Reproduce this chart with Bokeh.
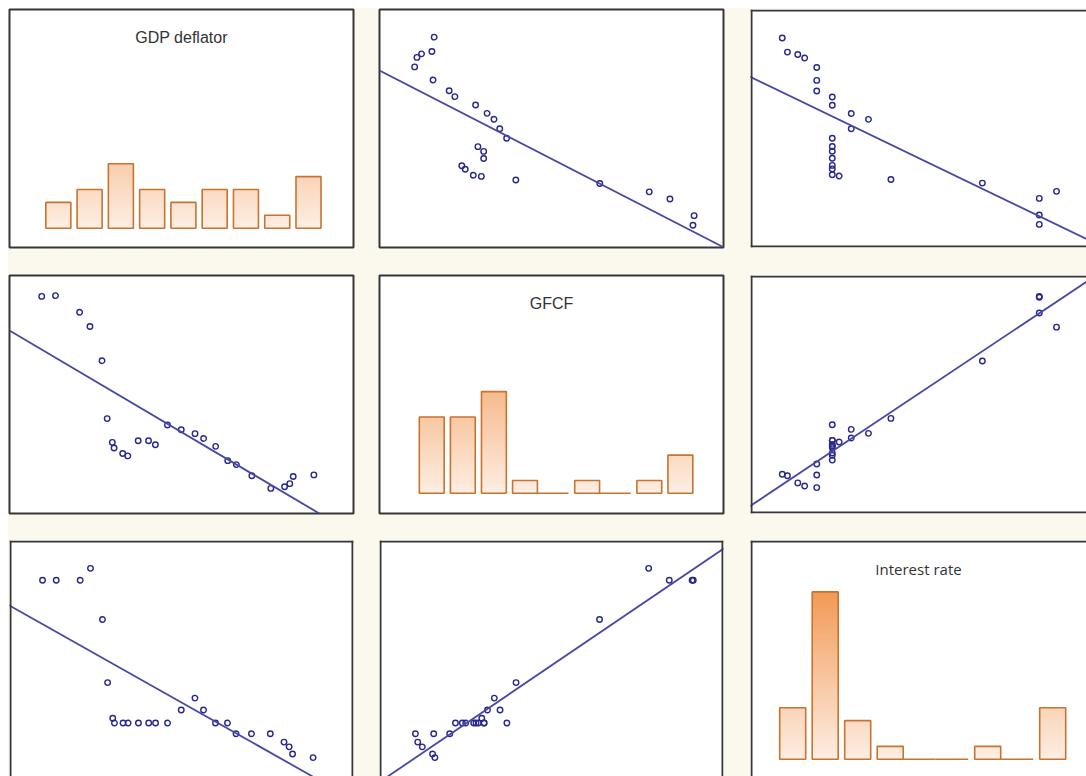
import numpy as np
from bokeh.plotting import figure
from bokeh.models import Range1d, Slope, Span, Label
from bokeh.layouts import gridplot
from bokeh.embed import file_html
from bokeh.resources import INLINE

# ---------------- data ----------------
variables = ["GDP deflator", "GFCF", "Interest rate"]

gdp_deflator = [1.9, 2.7, 4.1, 4.7, 5.4, 5.7, 6.0, 6.1, 6.6, 6.9, 7.5, 8.1, 8.5,
                9.2, 10.0, 10.8, 11.3, 12.0, 12.7, 13.2, 14.1, 15.2, 16.0, 16.3, 16.5, 17.7]
gfcf = [27.3, 27.4, 25.3, 23.5, 19.2, 11.9, 8.9, 8.2, 7.5, 7.2, 9.1, 9.1, 8.6,
        11.1, 10.5, 10.0, 9.4, 8.4, 6.6, 6.1, 4.7, 3.1, 3.3, 3.7, 4.6, 4.8]
interest_rate = [16.7, 16.7, 16.7, 17.7, 13.4, 8.1, 5.1, 4.7, 4.7, 4.7, 4.7, 4.7, 4.7,
                 4.7, 5.8, 6.8, 5.8, 4.7, 4.7, 3.8, 3.8, 3.8, 3.1, 2.7, 2.1, 1.8]

gdp_hist_counts = [2, 3, 5, 3, 2, 3, 3, 1, 4]
gfcf_hist_counts = [6, 6, 8, 1, 0, 1, 0, 1, 3]
interest_hist_counts = [4, 13, 3, 1, 0, 0, 1, 0, 4]

series = [gdp_deflator, gfcf, interest_rate]
hist_counts = [gdp_hist_counts, gfcf_hist_counts, interest_hist_counts]

# ---------------- layout / style ----------------
CREAM = "#FBF8EE"
FRAME_LINE = "#363636"
MARKER = "#26268E"
REG_LINE = "#4747A6"
BAR_LINE = "#C8732F"
GRAD_LO = np.array([253, 238, 227])
GRAD_HI = np.array([242, 154, 86])
GRAD_TOP_COUNT = 13.0

MARGIN = 8
col_w = [370, 372, 336]
col_border = [(1, 25), (1, 27), (1, 0)]
row_h = [266, 266, 236]
row_border = [(1, 27), (1, 27), (1, 0)]

# reference frame geometry (page px): left/top and size of a full panel frame
ref_col = [(8.5, 344.5), (378.5, 345.0), (750.7, 345.0)]
ref_row = [(9.3, 238.0), (274.5, 238.0), (540.5, 238.0)]
var_range = [(0.0, 20.0), (0.0, 30.0), (0.0, 20.0)]

# histogram geometry (page px): first bin edge, bin pitch, baseline y, px per count
hist_geom = [(42.2, 31.27, 227.7, 12.9),
             (415.7, 31.08, 492.7, 12.7),
             (775.95, 32.5, 758.7, 12.87)]
title_offset = 28.0
title_font = ["Liberation Sans", "Liberation Sans", "Open Sans"]
title_size = ["16px", "16px", "15px"]
BAR_W = 0.8


def grad_color(level):
    t = min(max(level / GRAD_TOP_COUNT, 0.0), 1.0)
    c = GRAD_LO + (GRAD_HI - GRAD_LO) * t
    return "#%02x%02x%02x" % tuple(int(round(v)) for v in c)


rows = []
for r in range(3):
    row = []
    fig_top = MARGIN + sum(row_h[:r])
    for c in range(3):
        fig_left = MARGIN + sum(col_w[:c])
        full = (r < 2 and c < 2)
        bl = col_border[c][0] if full else 0
        br = col_border[c][1] - (0 if (full or c == 2) else 1)
        bt = row_border[r][0] if full else 0
        bb = row_border[r][1] - (0 if (full or r == 2) else 1)
        fx0 = fig_left + bl
        fx1 = fig_left + col_w[c] - br
        fy0 = fig_top + bt
        fy1 = fig_top + row_h[r] - bb
        fw, fh = fx1 - fx0, fy1 - fy0

        if r == c:
            e0, pitch, base, ppc = hist_geom[r]
            xr = Range1d((fx0 - e0) / pitch, (fx1 - e0) / pitch)
            yr = Range1d((base - fy1) / ppc, (base - fy0) / ppc)
        else:
            lx, wx = ref_col[c]
            v0, v1 = var_range[c]
            xr = Range1d(v0 + (fx0 - lx) / wx * (v1 - v0), v0 + (fx1 - lx) / wx * (v1 - v0))
            ty, hy = ref_row[r]
            u0, u1 = var_range[r]
            yr = Range1d(u1 - (fy1 - ty) / hy * (u1 - u0), u1 - (fy0 - ty) / hy * (u1 - u0))

        p = figure(width=col_w[c], height=row_h[r], x_range=xr, y_range=yr,
                   output_backend="svg", toolbar_location=None,
                   x_axis_location=None, y_axis_location=None,
                   min_border_left=bl, min_border_right=br,
                   min_border_top=bt, min_border_bottom=bb,
                   background_fill_color="white", border_fill_color=CREAM)
        p.grid.visible = False

        if r == c:
            counts = hist_counts[r]
            L, R, B, T, C = [], [], [], [], []
            for i, cnt in enumerate(counts):
                n = int(round(cnt * 4))
                for k in range(n):
                    b = k * 0.25
                    L.append(i + 0.5 - BAR_W / 2)
                    R.append(i + 0.5 + BAR_W / 2)
                    B.append(b)
                    T.append(cnt)
                    C.append(grad_color(b + 0.125))
            p.quad(left=L, right=R, bottom=B, top=T, fill_color=C, line_color=None)
            nz = [i for i, cnt in enumerate(counts) if cnt > 0]
            p.quad(left=[i + 0.5 - BAR_W / 2 for i in nz],
                   right=[i + 0.5 + BAR_W / 2 for i in nz],
                   bottom=[0] * len(nz), top=[counts[i] for i in nz],
                   fill_color=None, line_color=BAR_LINE, line_width=1.6)
            zz = [i for i, cnt in enumerate(counts) if cnt == 0]
            if zz:
                p.segment(x0=[i - 0.5 + BAR_W / 2 for i in zz], y0=[0] * len(zz),
                          x1=[i + 0.5 + BAR_W / 2 for i in zz], y1=[0] * len(zz),
                          line_color=BAR_LINE, line_width=1.6)
            title_y = (base - (ref_row[r][0] + title_offset)) / ppc
            p.add_layout(Label(x=(xr.start + xr.end) / 2, y=title_y,
                               text=variables[r], text_align="center",
                               text_baseline="middle", text_font=title_font[r],
                               text_font_size=title_size[r], text_color="#333333"))
        else:
            x = np.array(series[c])
            y = np.array(series[r])
            slope, intercept = np.polyfit(x, y, 1)
            p.add_layout(Slope(gradient=slope, y_intercept=intercept,
                               line_color=REG_LINE, line_width=1.8))
            p.scatter(x, y, marker="circle", size=5.5, fill_color=None,
                      line_color=MARKER, line_width=1.4)

        # frame border
        if full:
            p.outline_line_color = FRAME_LINE
            p.outline_line_width = 2
        else:
            p.outline_line_color = None
            dx = (xr.end - xr.start) / fw
            dy = (yr.end - yr.start) / fh
            p.add_layout(Span(location=xr.start + dx, dimension="height",
                              line_color=FRAME_LINE, line_width=2))
            p.add_layout(Span(location=yr.end - dy, dimension="width",
                              line_color=FRAME_LINE, line_width=2))
            if c < 2:
                p.add_layout(Span(location=xr.end - dx, dimension="height",
                                  line_color=FRAME_LINE, line_width=2))
            if r < 2:
                p.add_layout(Span(location=yr.start + dy, dimension="width",
                                  line_color=FRAME_LINE, line_width=2))
        row.append(p)
    rows.append(row)

grid = gridplot(rows, toolbar_location=None)
grid.margin = (MARGIN, 0, 0, MARGIN)
grid.styles = {"background-color": CREAM}
open("out.html", "w").write(file_html(grid, INLINE))
